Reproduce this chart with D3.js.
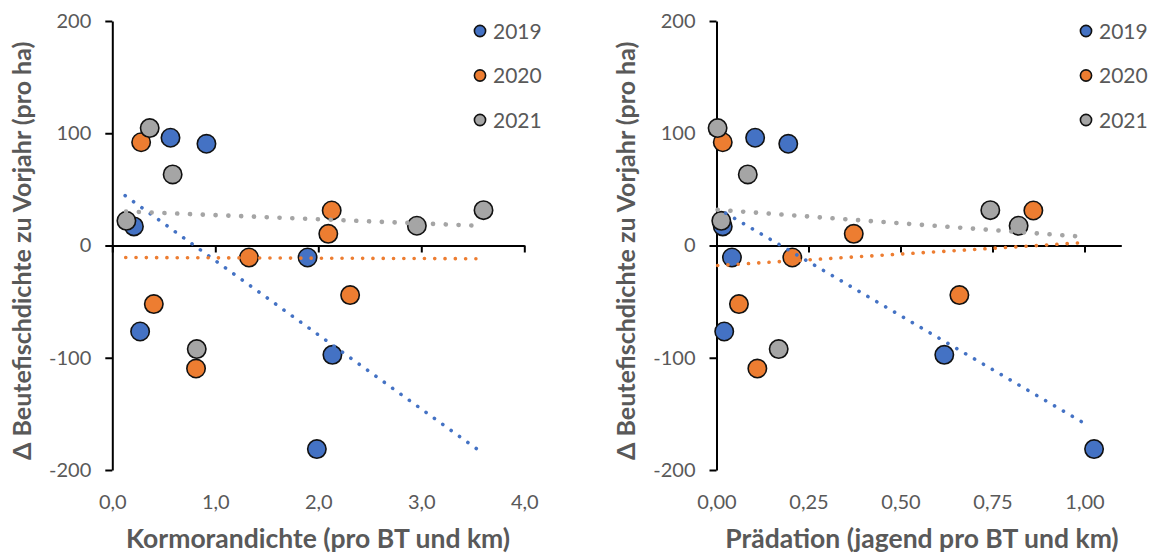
<!DOCTYPE html>
<html>
<head>
<meta charset="utf-8">
<script src="https://cdn.jsdelivr.net/npm/d3@7"></script>
<style>
  html, body { margin: 0; padding: 0; background: #fff; }
  svg { display: block; font-family: "Lato", "Open Sans", sans-serif; }
</style>
</head>
<body>
<svg id="chart" width="1151" height="556"></svg>
<script>
// Years (series)
const years = ["2019", "2020", "2021"];
const seriesColors = ["#4472C4", "#ED7D31", "#A5A5A5"];

// Change in prey fish density vs. previous year (per ha), one array per year
const delta2019 = [17, 96, 90.6, -10.7, -76.6, -97.4, -181.4];
const delta2020 = [92, -10.7, 31.2, 10.4, -52.2, -109.6, -44.2];
const delta2021 = [104.6, 63.3, 22, 17.6, 31.5, -92.3];

// Cormorant density (per BT and km), same point order as above
const korm2019 = [0.21, 0.565, 0.914, 1.896, 0.27, 2.137, 1.986];
const korm2020 = [0.28, 1.327, 2.13, 2.097, 0.403, 0.813, 2.309];
const korm2021 = [0.363, 0.586, 0.137, 2.957, 3.604, 0.82];

// Predation (hunting, per BT and km), same point order as above
const praed2019 = [0.017, 0.105, 0.195, 0.042, 0.021, 0.619, 1.026];
const praed2020 = [0.017, 0.206, 0.861, 0.373, 0.061, 0.111, 0.660];
const praed2021 = [0.003, 0.085, 0.013, 0.821, 0.744, 0.169];

// Linear trend lines: [x0, y0, x1, y1] per year
const trendKorm = [
  [0.125, 44.4, 3.54, -181.3],
  [0.13, -10.7, 3.53, -11.8],
  [0.133, 30.3, 3.50, 17.8]
];
const trendPraed = [
  [0.025, 28.8, 1.013, -161],
  [0.003, -17.8, 1.005, 2.7],
  [0.003, 31.8, 1.008, 7.5]
];

// Axis ticks and labels
const yTickValues = [-200, -100, 0, 100, 200];
const yTickLabels = ["-200", "-100", "0", "100", "200"];
const kormTickValues = [0, 1, 2, 3, 4];
const kormTickLabels = ["0,0", "1,0", "2,0", "3,0", "4,0"];
const praedTickValues = [0, 0.25, 0.5, 0.75, 1];
const praedTickLabels = ["0,00", "0,25", "0,50", "0,75", "1,00"];

const yTitle = "\u0394 Beutefischdichte zu Vorjahr (pro ha)";
const kormTitle = "Kormorandichte (pro BT und km)";
const praedTitle = "Prädation (jagend pro BT und km)";

const svg = d3.select("#chart");
const textColor = "#595959";

function drawPanel(p) {
  const g = svg.append("g");
  const x = d3.scaleLinear().domain(p.xDomain).range(p.xRange);
  const y = d3.scaleLinear().domain([-200, 200]).range([470, 21]);

  // y axis
  const yAxis = d3.axisLeft(y)
    .tickValues(yTickValues)
    .tickFormat((d, i) => yTickLabels[i])
    .tickSize(7).tickSizeOuter(0).tickPadding(14);
  const ya = g.append("g").attr("transform", `translate(${p.xRange[0]},0)`).call(yAxis);
  ya.select(".domain").attr("stroke", "#000").attr("stroke-width", 2);
  ya.selectAll(".tick line").attr("stroke", "#000").attr("stroke-width", 2);
  ya.selectAll(".tick text").attr("fill", textColor).attr("font-size", 20)
    .attr("font-family", "Lato, 'Open Sans', sans-serif");

  // x axis line crossing at y = 0
  const xAxis = d3.axisBottom(x)
    .tickValues(p.xTicks).tickFormat("")
    .tickSize(7).tickSizeOuter(0);
  const xa = g.append("g").attr("transform", `translate(0,${y(0)})`).call(xAxis);
  xa.select(".domain").attr("stroke", "#000").attr("stroke-width", 2);
  xa.selectAll(".tick line").attr("stroke", "#000").attr("stroke-width", 2);

  // x tick labels at the bottom of the plot
  const xLab = d3.axisBottom(x)
    .tickValues(p.xTicks).tickFormat((d, i) => p.xLabels[i])
    .tickSize(0).tickPadding(25);
  const xl = g.append("g").attr("transform", `translate(0,470)`).call(xLab);
  xl.select(".domain").remove();
  xl.selectAll(".tick text").attr("fill", textColor).attr("font-size", 20)
    .attr("font-family", "Lato, 'Open Sans', sans-serif");

  // points
  p.xs.forEach((xs, s) => {
    const ys = p.ys[s];
    g.append("g").selectAll("circle")
      .data(xs.map((v, i) => [v, ys[i]]))
      .join("circle")
      .attr("cx", d => x(d[0]))
      .attr("cy", d => y(d[1]))
      .attr("r", 9.2)
      .attr("fill", seriesColors[s])
      .attr("stroke", "#111")
      .attr("stroke-width", 1.6);
  });

  // dotted trend lines
  p.trends.forEach((t, s) => {
    const gray = s === 2;
    g.append("line")
      .attr("x1", x(t[0])).attr("y1", y(t[1]))
      .attr("x2", x(t[2])).attr("y2", y(t[3]))
      .attr("stroke", seriesColors[s])
      .attr("stroke-width", gray ? 4.6 : 3.6)
      .attr("stroke-linecap", "round")
      .attr("stroke-dasharray", gray ? "0.1 12.7" : "0.1 10.2");
  });

  // legend
  const lg = g.append("g");
  years.forEach((yr, s) => {
    const cy = p.legendY[s];
    lg.append("circle").attr("cx", p.legendX).attr("cy", cy).attr("r", 5.6)
      .attr("fill", seriesColors[s]).attr("stroke", "#111").attr("stroke-width", 1.6);
    lg.append("text").attr("x", p.legendX + 13).attr("y", cy)
      .attr("dy", "0.36em")
      .attr("fill", textColor).attr("font-size", 21).text(yr);
  });

  // axis titles
  g.append("text")
    .attr("x", p.xTitleX).attr("y", 548)
    .attr("text-anchor", "middle")
    .attr("fill", textColor).attr("font-size", 26.5).attr("font-weight", "bold")
    .text(p.xTitle);
  g.append("text")
    .attr("transform", `translate(${p.yTitleX},250.8) rotate(-90)`)
    .attr("text-anchor", "middle")
    .attr("fill", textColor).attr("font-size", 25).attr("font-weight", "bold")
    .text(yTitle);
}

drawPanel({
  xDomain: [0, 4], xRange: [112.3, 524.3],
  xTicks: kormTickValues, xLabels: kormTickLabels,
  xs: [korm2019, korm2020, korm2021],
  ys: [delta2019, delta2020, delta2021],
  trends: trendKorm,
  legendX: 480, legendY: [31, 75.5, 120],
  xTitle: kormTitle, xTitleX: 318, yTitleX: 31
});

drawPanel({
  xDomain: [0, 1.1], xRange: [716.5, 716.5 + 1.1 * 368],
  xTicks: praedTickValues, xLabels: praedTickLabels,
  xs: [praed2019, praed2020, praed2021],
  ys: [delta2019, delta2020, delta2021],
  trends: trendPraed,
  legendX: 1086, legendY: [31, 75.5, 120],
  xTitle: praedTitle, xTitleX: 922, yTitleX: 635
});
</script>
</body>
</html>
